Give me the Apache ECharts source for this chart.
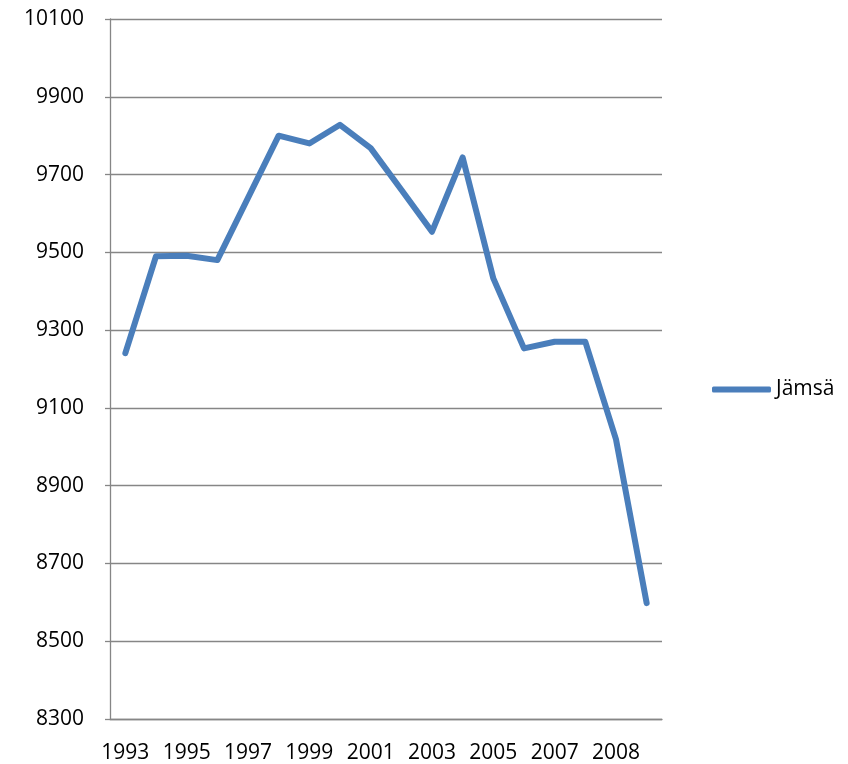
<!DOCTYPE html>
<html>
<head>
<meta charset="utf-8">
<script src="https://cdn.jsdelivr.net/npm/echarts@6/dist/echarts.min.js"></script>
<style>
html,body{margin:0;padding:0;background:#fff;}
#chart{width:848px;height:764px;}
</style>
</head>
<body>
<div id="chart"></div>
<script>
const categories = ['1993','1994','1995','1996','1997','1998','1999','2000','2001','2002','2003','2004','2005','2006','2007','2008','2008','2009'];
const seriesName = 'Jämsä';
const values = [9241, 9490, 9491, 9480, 9640, 9800, 9780, 9828, 9768, 9661, 9553, 9744, 9433, 9253, 9270, 9270, 9019, 8598];
const yMin = 8300, yMax = 10100, yStep = 200;

const chart = echarts.init(document.getElementById('chart'), null, {renderer: 'canvas'});
const font = '"Open Sans", "Liberation Sans", sans-serif';
const gray = '#868686';
chart.setOption({
  animation: false,
  backgroundColor: '#ffffff',
  textStyle: {fontFamily: font},
  grid: {left: 110, right: 186, top: 19, bottom: 45, containLabel: false},
  legend: {
    data: [seriesName],
    left: 707,
    top: 374,
    icon: 'roundRect',
    itemWidth: 59,
    itemHeight: 6,
    textStyle: {fontFamily: font, fontSize: 21, color: '#000000'}
  },
  xAxis: {
    type: 'category',
    data: categories,
    boundaryGap: true,
    axisLine: {show: true, lineStyle: {color: gray, width: 1.3}},
    axisTick: {show: false},
    axisLabel: {interval: 1, margin: 24, fontSize: 21, color: '#000000', fontFamily: font},
    splitLine: {show: false}
  },
  yAxis: {
    type: 'value',
    min: yMin,
    max: yMax,
    interval: yStep,
    axisLine: {show: true, lineStyle: {color: gray, width: 1.3}},
    axisTick: {show: true, length: 5, inside: false, lineStyle: {color: gray, width: 1.3}},
    axisLabel: {margin: 26, fontSize: 21, color: '#000000', fontFamily: font, formatter: function (v) { return String(v); }},
    splitLine: {show: true, lineStyle: {color: gray, width: 1.3}}
  },
  series: [{
    name: seriesName,
    type: 'line',
    data: values,
    showSymbol: false,
    symbol: 'none',
    itemStyle: {color: '#4a7ebb'},
    lineStyle: {color: '#4a7ebb', width: 6, cap: 'round', join: 'round'}
  }]
});
</script>
</body>
</html>
